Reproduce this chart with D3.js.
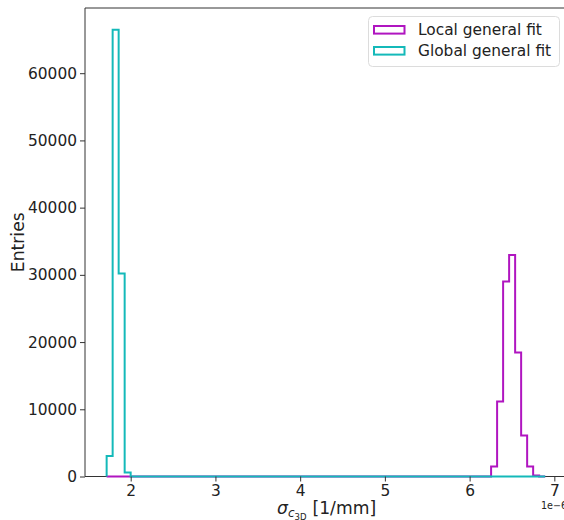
<!DOCTYPE html>
<html>
<head>
<meta charset="utf-8">
<script src="https://cdn.jsdelivr.net/npm/d3@7"></script>
<style>
  html, body { margin: 0; padding: 0; background: #fff; }
  svg { display: block; font-family: "DejaVu Sans", sans-serif; }
</style>
</head>
<body>
<svg id="chart" width="564" height="520"></svg>
<script>
// histogram binning (shared by both series)
const binLo = 1.716;
const binWidth = 0.0709;
const nBins = 73;

// non-empty bins: index of first bin + entries per bin
const localFirstBin = 64;
const localCounts = [1500, 11150, 29000, 32950, 18450, 6100, 1500, 150];
const globalFirstBin = 0;
const globalCounts = [3050, 66450, 30200, 600];

const xTicks = [2, 3, 4, 5, 6, 7];
const yTicks = [0, 10000, 20000, 30000, 40000, 50000, 60000];

const series = [
  { name: 'Local general fit', first: localFirstBin, counts: localCounts, color: '#b015c0' },
  { name: 'Global general fit', first: globalFirstBin, counts: globalCounts, color: '#14b9b9' }
];

const plotLeft = 85, plotRight = 564, plotTop = 8, plotBottom = 476.5;

const svg = d3.select('#chart');

const x = d3.scaleLinear().domain([1.4606, 7.114]).range([plotLeft, plotRight]);
const y = d3.scaleLinear().domain([0, 69700]).range([plotBottom, plotTop]);

svg.append('defs').append('clipPath').attr('id', 'plotclip')
  .append('rect')
  .attr('x', plotLeft).attr('y', plotTop - 2)
  .attr('width', plotRight - plotLeft).attr('height', plotBottom - plotTop + 4);

// spines first (right one falls outside the picture)
svg.append('line').attr('x1', plotLeft).attr('x2', plotLeft).attr('y1', plotTop).attr('y2', plotBottom)
  .attr('stroke', '#333').attr('stroke-width', 1);
svg.append('line').attr('x1', plotLeft).attr('x2', plotRight).attr('y1', plotBottom).attr('y2', plotBottom)
  .attr('stroke', '#333').attr('stroke-width', 1);
svg.append('line').attr('x1', plotLeft).attr('x2', plotRight).attr('y1', plotTop).attr('y2', plotTop)
  .attr('stroke', '#333').attr('stroke-width', 1);

// step outline, like histtype='step'
function stepPoints(s) {
  const full = new Array(nBins).fill(0);
  s.counts.forEach((c, i) => { full[s.first + i] = c; });
  const pts = [[binLo, 0]];
  full.forEach((c, k) => {
    pts.push([binLo + k * binWidth, c]);
    pts.push([binLo + (k + 1) * binWidth, c]);
  });
  pts.push([binLo + nBins * binWidth, 0]);
  return pts;
}

const line = d3.line().x(d => x(d[0])).y(d => y(d[1]));

const plot = svg.append('g').attr('clip-path', 'url(#plotclip)');
series.forEach(s => {
  plot.append('path')
    .attr('d', line(stepPoints(s)))
    .attr('fill', 'none')
    .attr('stroke', s.color)
    .attr('stroke-width', 2)
    .attr('stroke-linejoin', 'miter');
});

// x axis
const xAxis = svg.append('g')
  .attr('transform', `translate(0,${plotBottom})`)
  .call(d3.axisBottom(x).tickValues(xTicks).tickSize(5).tickPadding(4).tickFormat(d3.format('d')));
xAxis.select('.domain').remove();
xAxis.selectAll('line').attr('stroke', '#333');
xAxis.selectAll('text').attr('font-size', 15.4).attr('fill', '#222')
  .attr('font-family', '"DejaVu Sans", sans-serif');

// y axis
const yAxis = svg.append('g')
  .attr('transform', `translate(${plotLeft},0)`)
  .call(d3.axisLeft(y).tickValues(yTicks).tickSize(5).tickPadding(3).tickFormat(d3.format('d')));
yAxis.select('.domain').remove();
yAxis.selectAll('line').attr('stroke', '#333');
yAxis.selectAll('text').attr('font-size', 15.4).attr('fill', '#222')
  .attr('font-family', '"DejaVu Sans", sans-serif');

// axis labels
svg.append('text')
  .attr('transform', `translate(24,${(plotTop + plotBottom) / 2}) rotate(-90)`)
  .attr('text-anchor', 'middle')
  .attr('font-size', 17.2).attr('fill', '#222')
  .text('Entries');

const xl = svg.append('text')
  .attr('x', 277).attr('y', 514)
  .attr('font-size', 17.2).attr('fill', '#222');
xl.append('tspan').attr('font-style', 'italic').text('σ');
xl.append('tspan').attr('font-style', 'italic').attr('font-size', 12).attr('dy', 3).text('c');
xl.append('tspan').attr('font-size', 8.5).attr('dy', 2.5).text('3D');
xl.append('tspan').attr('dy', -5.5).attr('dx', 6).text('[1/mm]');

// offset text (cut by the right edge, as in the source image)
svg.append('text')
  .attr('x', 541).attr('y', 509)
  .attr('font-size', 9.6).attr('fill', '#222')
  .text('1e\u22126');

// legend
const lg = svg.append('g');
lg.append('rect')
  .attr('x', 368.5).attr('y', 16.5).attr('width', 191).attr('height', 50)
  .attr('rx', 4).attr('fill', '#fff').attr('fill-opacity', 0.8)
  .attr('stroke', '#dcdcdc').attr('stroke-width', 1);
series.forEach((s, i) => {
  const cy = 29.8 + i * 21;
  lg.append('rect')
    .attr('x', 374).attr('y', cy - 3.8).attr('width', 30.5).attr('height', 7.6)
    .attr('fill', 'none').attr('stroke', s.color).attr('stroke-width', 2);
  lg.append('text')
    .attr('x', 418).attr('y', cy + 5.6)
    .attr('font-size', 15.4).attr('fill', '#222')
    .text(s.name);
});
</script>
</body>
</html>
